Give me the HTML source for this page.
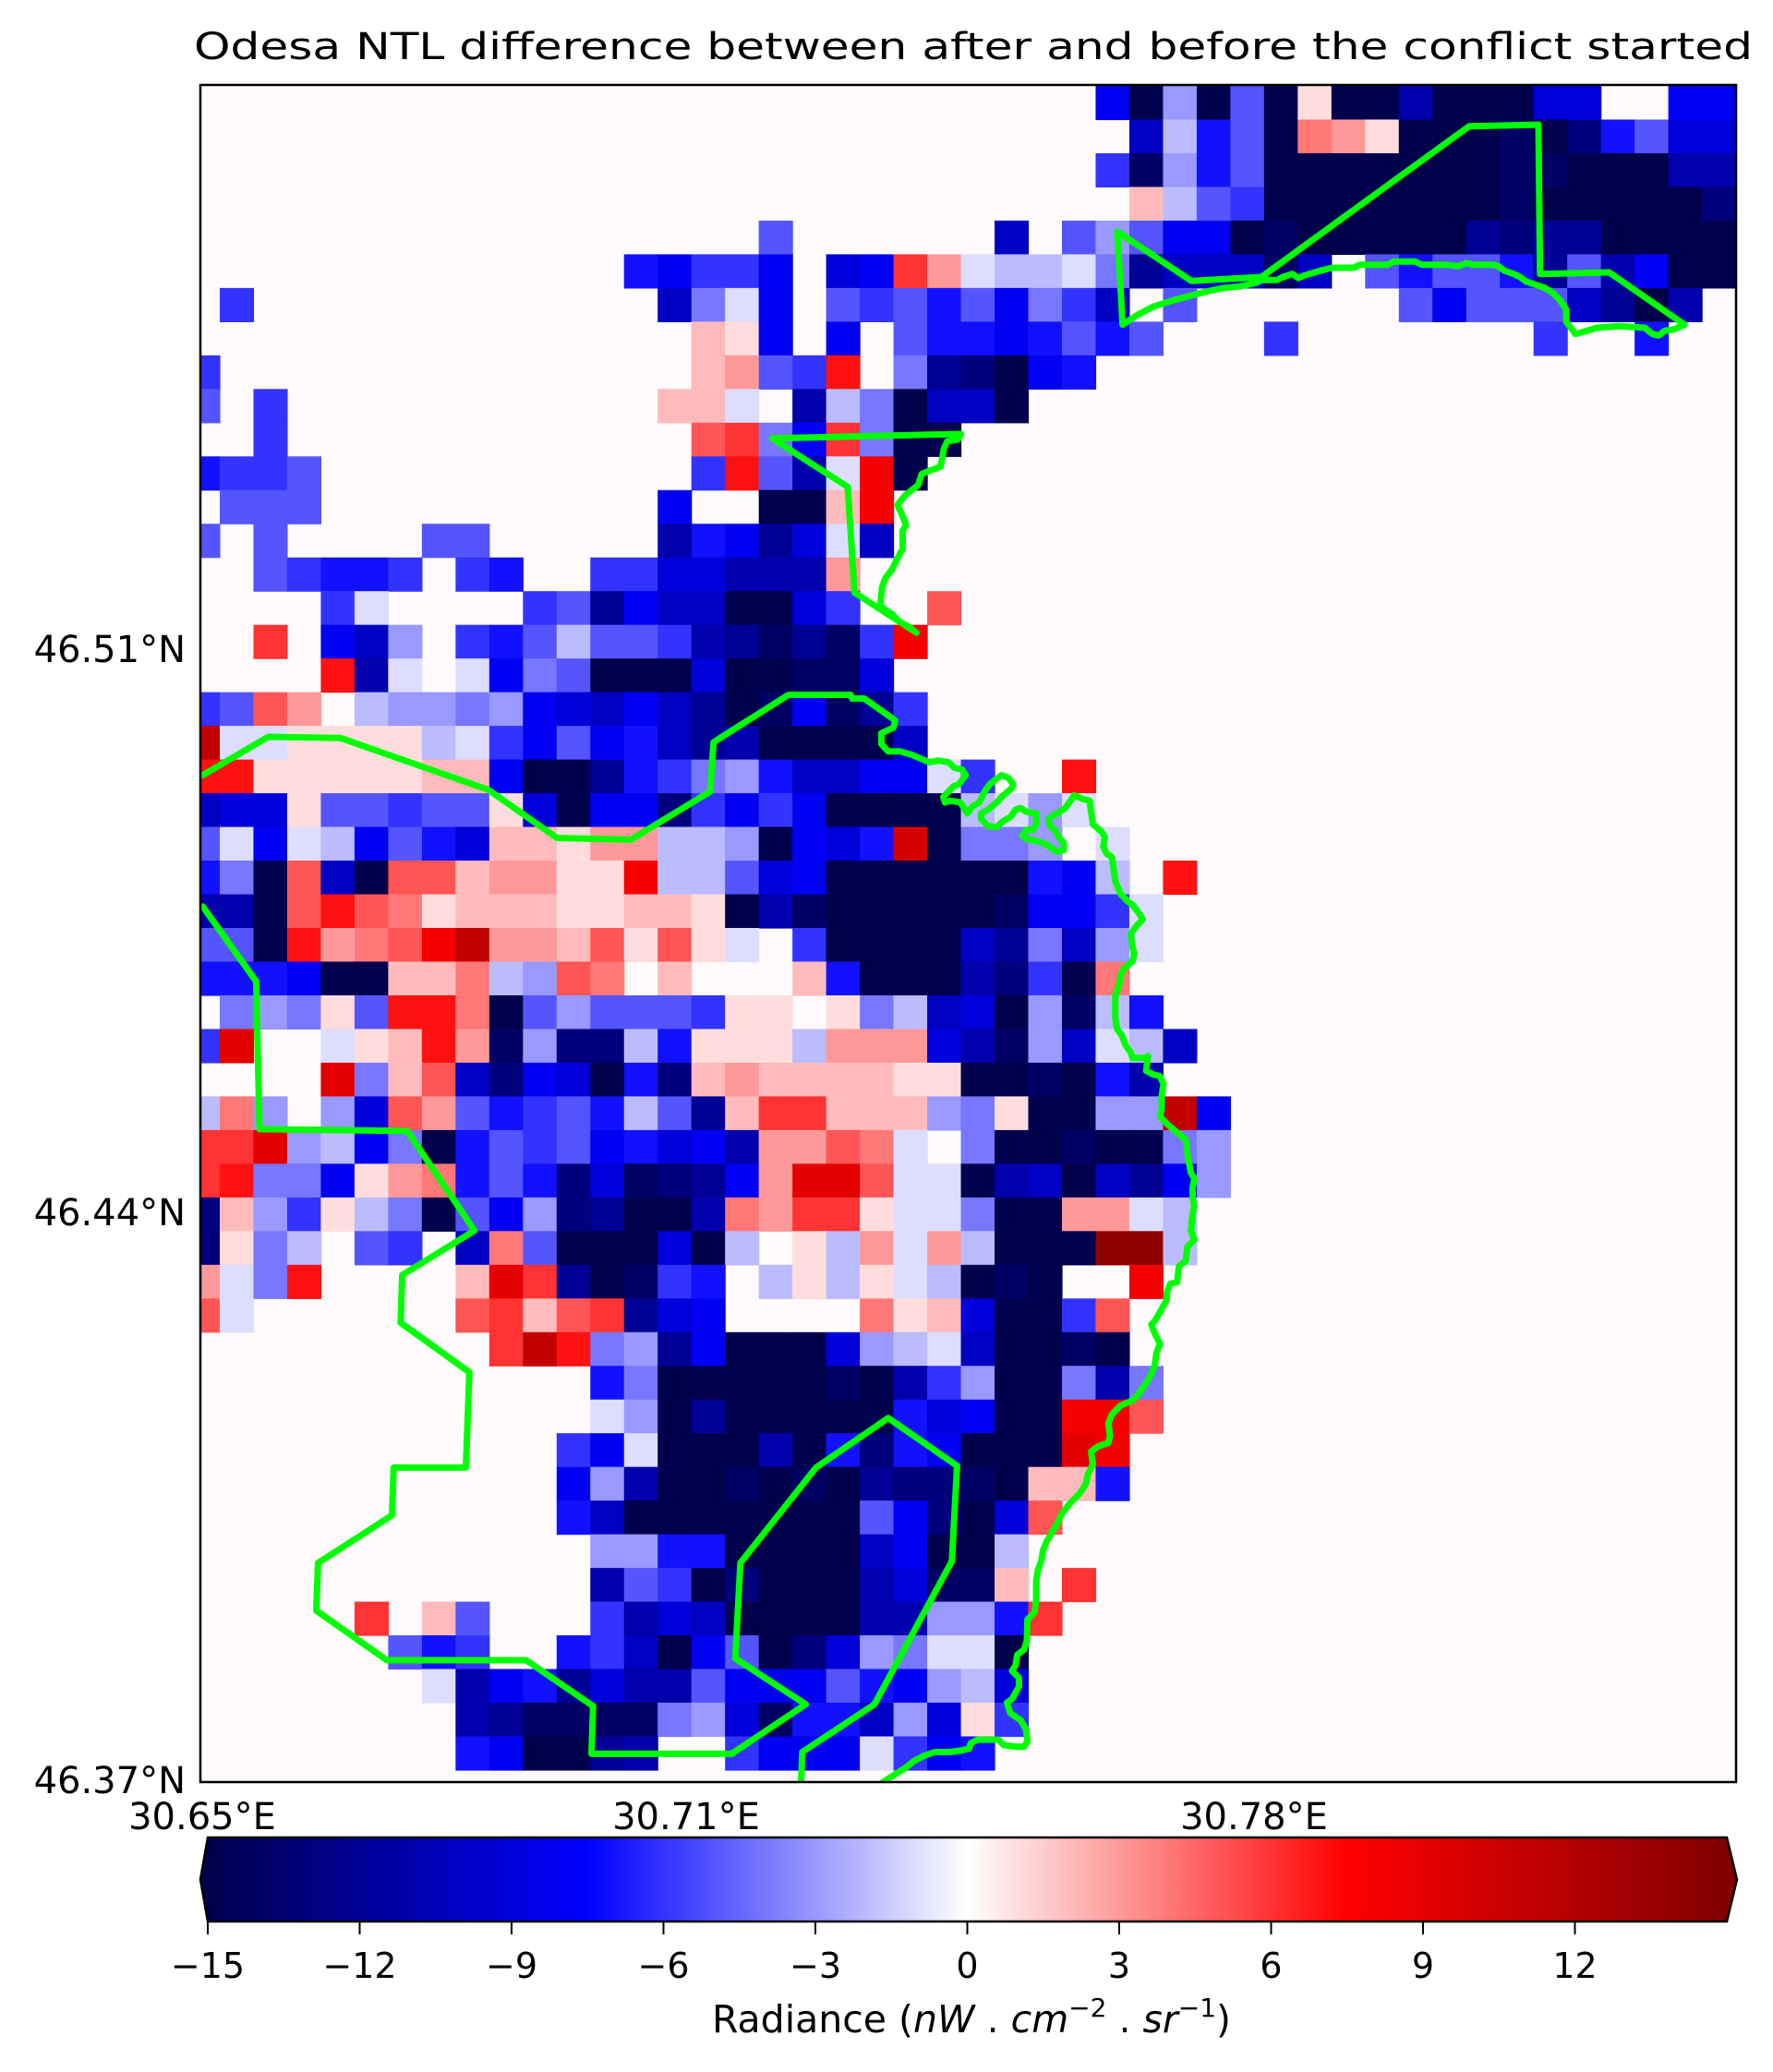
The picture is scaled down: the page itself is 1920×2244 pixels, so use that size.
<!DOCTYPE html>
<html><head><meta charset="utf-8"><style>
html,body{margin:0;padding:0;background:#fff;}
svg{display:block;font-family:"DejaVu Sans","Liberation Sans",sans-serif;}
</style></head><body>
<svg id="fig" width="1920" height="2244" viewBox="0 0 1920 2244" xmlns="http://www.w3.org/2000/svg">
<defs>
<clipPath id="plotclip"><rect x="217" y="92" width="1663" height="1838"/></clipPath>
<linearGradient id="cbgrad" x1="0" x2="1" y1="0" y2="0"></linearGradient>
</defs>
<text x="1054" y="64" font-size="40" text-anchor="middle" textLength="1688" lengthAdjust="spacingAndGlyphs">Odesa NTL difference between after and before the conflict started</text>
<rect id="plotbg" x="217" y="92" width="1663" height="1838"/>
<g id="cells" clip-path="url(#plotclip)"></g>
<g id="outlines" clip-path="url(#plotclip)"></g>
<rect x="217" y="92" width="1663" height="1838" fill="none" stroke="#000" stroke-width="2.5"/>
<g id="ylabels" font-size="40" text-anchor="end"></g>
<g id="xlabels" font-size="40" text-anchor="middle"></g>
<g id="colorbar"></g>
<text x="1052" y="2201" font-size="41" text-anchor="middle">Radiance (<tspan font-style="italic">nW</tspan> . <tspan font-style="italic">cm</tspan><tspan font-size="28" dy="-17">−2</tspan><tspan dy="17"> . </tspan><tspan font-style="italic">sr</tspan><tspan font-size="28" dy="-17">−1</tspan><tspan dy="17">)</tspan></text>
</svg>
<script>
// ---- data ----
// grid codes: '.'=0, '1'..'9' = -1..-9, 'a'..'f' = -10..-15, 'A'..'N' = 1..14
const levelCodes = ".123456789abcdefABCDEFGHIJKLMN";
const levelValues = [0.1,-1,-2,-3,-4,-5,-6,-7,-8,-9,-10,-11,-12,-13,-14,-15,1,2,3,4,5,6,7,8,9,10,11,12,13,14];
const gridRows = [
"...........................8f3f5fAffbfff99..88",
"............................a275fDCAfffefd7599",
"...........................6e375fffffffeefffbb",
"............................B256fffffffefffffd",
".................5......a.53588fefffffcdccffff",
".............78668.98FC12214caaaea.57557c5b8ff",
".6............a418.56575846a.5......58555acfb",
"...............BA8.8.57787575...6.......6..7..",
"6..............BC56G.4cdf87...................",
"5.6...........BB1.b24faaf.....................",
"..6............EF48F4ff.......................",
"7665...........6G5b1Hf........................",
".555..........8..ffBH.........................",
"5.5....55.....b78c91a.........................",
"..56776.67..6699bbbC..........................",
"....61....65c8aaff96..E.......................",
"..F.8a3.6752556bcece6H........................",
"....Gb1.1845fff9ffee9.........................",
"65EC.2334389a8acfe8ec6........................",
"K11AAAA2168587acbffffa........................",
"GGAAAAABB8ffc76437aa8816..G...................",
"a99A55655A9f88d6868ffff2131...................",
"518128579BBACC223f897Jf443.1..................",
"74fEafEEBCCAAH22598ffffff782.G................",
"bbfEGEDABBBAABBAfbefffffe8861.................",
"55fGCDEHKCCBEAEA1.6ffffac4a31.................",
"7778ffBBD23ED.B...B7fffbd6fD..................",
".434A5GGDf535556AA.A42a9f3e27.................",
"6I..1ABGCe3dd27AAA2CCC9be3a12a................",
"....I4BEad89f7dBCBBBBAAffef7b.................",
"2D3.39EC5765725cBFFBBB34Aff33K8...............",
"FFI3284f75658798bCCED1.4ffeff43...............",
"FG448ACD757d9edc8CIIE11fbafac83...............",
"dB36A24f583dcffbDCFFA114ffCC12................",
"dA42.56.aD5fff9f2.A2C1C2fffNN2................",
"C14G....BIFcfe67.2A2A12fef..H.................",
"E1......EFBEFc98....DAB9ff6E..................",
".........FKG43c8fff9321affef..................",
"............74fffffefb63ff4b4.................",
"............13fcfffff798ffHHE.................",
"...........681fffbf7d78fffIH..................",
"...........83bffefefcddefBB7..................",
"...........7afffffff58df9E....................",
"............3377ffffa8ff2.....................",
"............b56fdfffb9eeB.F...................",
".....F.B5...6b9affffbb337F....................",
"......576..76af85fd93411f.....................",
".......1b87c9bb5888578329.....................",
"........bceeee439e77a39A6.....................",
"........78ffcb..68881687......................",
".............................................."
];
const cbTicks = [-15,-12,-9,-6,-3,0,3,6,9,12];
const yTickLabels = ["46.51°N","46.44°N","46.37°N"];
const yTickPos = [702,1312,1927];
const xTickLabels = ["30.65°E","30.71°E","30.78°E"];
const xTickPos = [219,743,1358];

// ---- geometry ----
const NS="http://www.w3.org/2000/svg";
const cellW=36.48, cellH=36.48, gx0=201.5, gy0=93;
const vmin=-15, vmax=15;
function seismic(v){
  let t=(v-vmin)/(vmax-vmin); t=Math.max(0,Math.min(1,t));
  let r,g,b;
  if(t<0.25){r=0;g=0;b=0.3+0.7*(t/0.25);}
  else if(t<0.5){const s=(t-0.25)/0.25;r=s;g=s;b=1;}
  else if(t<0.75){const s=(t-0.5)/0.25;r=1;g=1-s;b=1-s;}
  else {const s=(t-0.75)/0.25;r=1-0.5*s;g=0;b=0;}
  return `rgb(${Math.round(r*255)},${Math.round(g*255)},${Math.round(b*255)})`;
}
function decode(ch){const i=levelCodes.indexOf(ch);return i<0?0:levelValues[i];}
document.getElementById('plotbg').setAttribute('fill','#fffbfc');
const cells=document.getElementById('cells');
gridRows.forEach((row,i)=>{
  for(let j=0;j<row.length;j++){
    const v=decode(row[j]);
    if(row[j]==='.') continue;
    const r=document.createElementNS(NS,'rect');
    r.setAttribute('x',(gx0+j*cellW).toFixed(2));
    r.setAttribute('y',(gy0+i*cellH).toFixed(2));
    r.setAttribute('width',(cellW+0.6).toFixed(2));
    r.setAttribute('height',(cellH+0.6).toFixed(2));
    r.setAttribute('fill',seismic(v));
    
    
    cells.appendChild(r);
  }
});

// ---- outlines (traced in zoom-crop coordinates, mapped to page) ----
const T={
 z6:[784,95,2.687,2.533], z7:[1366,95,3,3], z8:[201,713,2.685,2.53],
 z9:[785,713,2.685,2.53], z10:[201,1333,2.685,2.613], z11:[785,1333,2.685,2.613]
};
function mp(z,pts){const t=T[z];return pts.map(p=>[t[0]+p[0]/t[2],t[1]+p[1]/t[3]]);}
const lineA=[].concat(
 mp('z8',[[50,320],[240,215],[450,218],[880,360],[1080,492],[1295,497],[1525,365],[1535,230],[1568,210]]),
 mp('z9',[[185,100],[365,100],[370,110],[405,110],[495,170],[490,190],[455,205],[455,235],[475,255],[510,255],[545,265],[595,285],[620,280],[650,285],[668,300],[690,305],[700,320],[680,345],[665,350],[650,365],[635,380],[640,395],[655,390],[685,395],[705,425],[720,405],[740,395],[755,365],[770,345],[790,330],[805,320],[825,328],[838,345],[835,355],[810,375],[790,395],[765,415],[745,425],[745,440],[765,460],[790,462],[810,445],[830,435],[845,415],[860,410],[875,420],[905,425],[905,455],[895,470],[875,470],[865,485],[875,495],[905,500],[935,510],[965,530],[985,525],[985,505],[970,490],[960,470],[945,460],[940,440],[965,425],[990,410],[1005,390],[1015,375],[1040,385],[1060,390],[1065,420],[1070,455],[1095,475],[1105,490],[1100,515],[1110,535],[1125,545],[1130,575],[1135,610],[1150,645],[1170,665],[1185,675],[1205,700],[1215,715],[1195,735],[1180,755],[1185,790],[1190,810],[1185,830],[1160,850],[1150,870],[1145,900],[1135,925],[1135,985],[1140,1015],[1155,1035],[1165,1060],[1180,1080],[1185,1095],[1220,1095],[1230,1090],[1225,1130],[1245,1140],[1265,1145],[1275,1165],[1270,1200],[1270,1235],[1265,1255],[1285,1275],[1340,1320],[1345,1360],[1355,1410],[1365,1425],[1360,1450],[1360,1480],[1365,1500],[1360,1520],[1355,1568]]),
 mp('z11',[[1365,25],[1345,45],[1340,85],[1320,100],[1315,145],[1295,150],[1285,175],[1285,195],[1265,230],[1250,255],[1240,265],[1250,290],[1265,320],[1255,345],[1250,380],[1240,405],[1225,430],[1200,465],[1185,480],[1150,495],[1125,520],[1115,545],[1120,580],[1115,600],[1085,610],[1065,625],[1070,660],[1055,690],[1050,715],[1030,745],[1000,775],[980,800],[965,830],[950,855],[935,880],[925,905],[920,935],[910,960],[905,990],[905,1045],[900,1080],[880,1100],[878,1160],[870,1185],[850,1200],[845,1230],[835,1245],[855,1265],[855,1290],[835,1325],[820,1335],[830,1365],[860,1385],[875,1410],[880,1445],[870,1460],[845,1460],[810,1455],[795,1440],[735,1440],[715,1450],[710,1465],[690,1470],[655,1475],[610,1475],[580,1485],[550,1500],[525,1520],[500,1535],[460,1560],[440,1600]])
);
const lineB=[].concat(
 mp('z8',[[50,680],[205,885],[215,1290],[645,1295],[840,1568]]),
 mp('z10',[[630,125],[625,260],[825,400],[815,670],[605,670],[600,805],[385,940],[380,1075],[585,1215],[990,1215],[1185,1345],[1180,1480],[1568,1480]]),
 mp('z11',[[20,1480],[235,1340],[30,1210],[45,940],[265,670],[475,530],[675,665],[660,935],[435,1340],[225,1475],[220,1600]])
);
const lineC=mp('z6',[[690,950],[140,962],[360,1095],[380,1385],[560,1495],[540,1480],[510,1465],[490,1445],[465,1430],[455,1420],[460,1370],[470,1345],[490,1320],[500,1300],[520,1265],[520,1215],[530,1200],[515,1165],[505,1145],[525,1120],[545,1105],[565,1090],[575,1060],[600,1050],[630,1040],[640,990],[650,970],[680,965],[690,950]]);
const lineD=[].concat(
 mp('z6',[[1145,395],[1360,530]]),
 mp('z7',[[0,615],[675,125],[900,120],[905,605],[1130,600],[1375,770],[1340,785],[1310,790],[1290,805],[1270,800],[1245,780],[1160,775],[1090,780],[1040,795],[1020,800],[1005,780],[990,760],[990,720],[970,690],[945,665],[920,650],[890,640],[860,630],[840,615],[820,605],[790,595],[770,580],[750,575],[690,575],[665,570],[640,580],[600,575],[550,575],[520,575],[500,565],[430,565],[410,575],[320,575],[300,585],[230,585],[190,595],[140,610],[120,618],[100,605],[70,615],[50,625],[0,625]]),
 mp('z6',[[1550,535],[1500,545],[1450,550],[1400,560],[1360,570],[1300,585],[1250,600],[1200,625],[1160,650],[1145,395]])
);
const og=document.getElementById('outlines');
[['boundary-line-west',lineA],['boundary-line-southwest',lineB],['boundary-port',lineC],['boundary-northeast',lineD]].forEach(([nm,pts])=>{
  const p=document.createElementNS(NS,'polyline');
  p.setAttribute('points',pts.map(q=>q[0].toFixed(1)+','+q[1].toFixed(1)).join(' '));
  p.setAttribute('fill','none');p.setAttribute('stroke','#00ff00');
  p.setAttribute('stroke-width','7');p.setAttribute('stroke-linejoin','round');p.setAttribute('stroke-linecap','round');
  
  
  og.appendChild(p);
});

// ---- axis labels ----
const yl=document.getElementById('ylabels');
yTickLabels.forEach((s,i)=>{
  const t=document.createElementNS(NS,'text');
  t.setAttribute('x',201);t.setAttribute('y',yTickPos[i]+15);t.textContent=s;
  
  
  yl.appendChild(t);
});
const xl=document.getElementById('xlabels');
xTickLabels.forEach((s,i)=>{
  const t=document.createElementNS(NS,'text');
  t.setAttribute('x',xTickPos[i]);t.setAttribute('y',1981);t.textContent=s;
  
  
  xl.appendChild(t);
});

// ---- colorbar ----
const cbL=225, cbR=1870, cbT=1990, cbB=2081;
function cbX(v){return cbL+(v-vmin)/(vmax-vmin)*(cbR-cbL);}
const grad=document.getElementById('cbgrad');
for(let k=0;k<=60;k++){
  const v=vmin+k*(vmax-vmin)/60;
  const s=document.createElementNS(NS,'stop');
  s.setAttribute('offset',(k/60).toFixed(4));s.setAttribute('stop-color',seismic(v));
  grad.appendChild(s);
}
const cb=document.getElementById('colorbar');
const mid=(cbT+cbB)/2;
const under=document.createElementNS(NS,'polygon');
under.setAttribute('points',`${cbL+1},${cbT} 217,${mid} ${cbL+1},${cbB}`);
under.setAttribute('fill',seismic(vmin));


cb.appendChild(under);
const over=document.createElementNS(NS,'polygon');
over.setAttribute('points',`${cbR-1},${cbT} 1881,${mid} ${cbR-1},${cbB}`);
over.setAttribute('fill',seismic(vmax));


cb.appendChild(over);
const body=document.createElementNS(NS,'rect');
body.setAttribute('x',cbL);body.setAttribute('y',cbT);body.setAttribute('width',cbR-cbL);body.setAttribute('height',cbB-cbT);
body.setAttribute('fill','url(#cbgrad)');


cb.appendChild(body);
const outline=document.createElementNS(NS,'polygon');
outline.setAttribute('points',`${cbL},${cbT} ${cbR},${cbT} 1881,${mid} ${cbR},${cbB} ${cbL},${cbB} 217,${mid}`);
outline.setAttribute('fill','none');outline.setAttribute('stroke','#000');outline.setAttribute('stroke-width','2.5');


cb.appendChild(outline);
cbTicks.forEach(v=>{
  const x=cbX(v);
  const l=document.createElementNS(NS,'line');
  l.setAttribute('x1',x);l.setAttribute('x2',x);l.setAttribute('y1',cbB);l.setAttribute('y2',cbB+14);
  l.setAttribute('stroke','#000');l.setAttribute('stroke-width','2');
  
  
  cb.appendChild(l);
  const t=document.createElementNS(NS,'text');
  t.setAttribute('x',x);t.setAttribute('y',2142);t.setAttribute('font-size','38');t.setAttribute('text-anchor','middle');
  t.textContent=(v<0?'−':'')+Math.abs(v);
  
  
  cb.appendChild(t);
});
</script>
</body></html>
